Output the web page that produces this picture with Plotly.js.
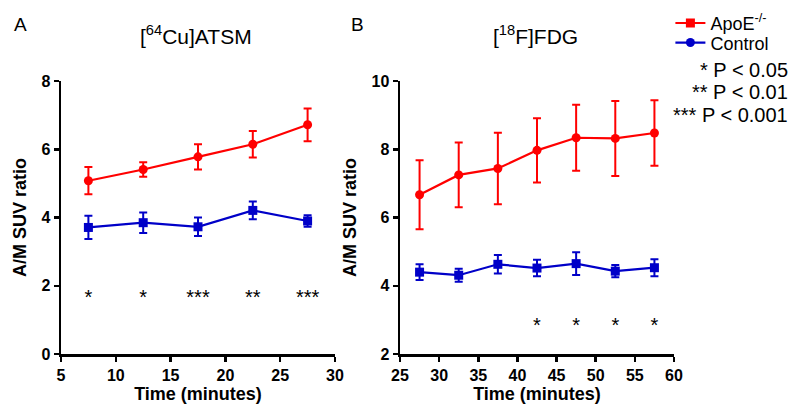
<!DOCTYPE html>
<html><head><meta charset="utf-8">
<script src="https://cdn.plot.ly/plotly-3.0.1.min.js"></script>
<style>html,body{margin:0;padding:0;background:#fff}#plot{width:800px;height:416px}</style>
</head><body><div id="plot"></div>
<script>
// Panel A: [64Cu]ATSM
const timeA = [7.5, 12.5, 17.5, 22.5, 27.5];
const apoeA = [5.08, 5.41, 5.78, 6.15, 6.72];
const apoeAErr = [0.40, 0.21, 0.37, 0.39, 0.48];
const ctrlA = [3.71, 3.85, 3.73, 4.21, 3.90];
const ctrlAErr = [0.34, 0.30, 0.27, 0.26, 0.17];
const starsA = ['*', '*', '***', '**', '***'];
const starYA = 1.6;

// Panel B: [18F]FDG
const timeB = [27.5, 32.5, 37.5, 42.5, 47.5, 52.5, 57.5];
const apoeB = [6.67, 7.25, 7.44, 7.97, 8.34, 8.32, 8.48];
const apoeBErr = [1.01, 0.95, 1.05, 0.94, 0.97, 1.10, 0.96];
const ctrlB = [4.40, 4.31, 4.63, 4.52, 4.65, 4.43, 4.53];
const ctrlBErr = [0.23, 0.19, 0.27, 0.24, 0.33, 0.18, 0.25];
const starTimesB = [42.5, 47.5, 52.5, 57.5];
const starsB = ['*', '*', '*', '*'];
const starYB = 2.79;

// Tick labels
const xTicksA = [5, 10, 15, 20, 25, 30];
const yTicksA = [0, 2, 4, 6, 8];
const xTicksB = [25, 30, 35, 40, 45, 50, 55, 60];
const yTicksB = [2, 4, 6, 8, 10];

const legendNames = ['ApoE<sup>-/-</sup>', 'Control'];
const pLegend = ['* P < 0.05', '** P < 0.01', '*** P < 0.001'];

const RED = '#ff0000', BLUE = '#0000c8';
const F = 'Liberation Sans, Arial, sans-serif';

function series(x, y, e, color, symbol, xa, ya) {
  return {x, y, xaxis: xa, yaxis: ya, type: 'scatter', mode: 'lines+markers', showlegend: false,
    line: {color, width: 2.2}, marker: {color, symbol, size: 9},
    error_y: {type: 'data', array: e, visible: true, color, thickness: 2, width: 4}};
}
function stars(x, y, t, xa, ya) {
  return {x, y: x.map(() => y), text: t, xaxis: xa, yaxis: ya, type: 'scatter', mode: 'text',
    showlegend: false, textfont: {family: F, size: 20, color: '#000'}, hoverinfo: 'skip'};
}
const bold = a => a.map(v => '<b>' + v + '</b>');

const traces = [
  series(timeA, apoeA, apoeAErr, RED, 'circle', 'x', 'y'),
  series(timeA, ctrlA, ctrlAErr, BLUE, 'square', 'x', 'y'),
  series(timeB, apoeB, apoeBErr, RED, 'circle', 'x2', 'y2'),
  series(timeB, ctrlB, ctrlBErr, BLUE, 'square', 'x2', 'y2'),
  stars(timeA, starYA, starsA, 'x', 'y'),
  stars(starTimesB, starYB, starsB, 'x2', 'y2'),
  {x: [null], y: [null], type: 'scatter', mode: 'lines+markers', name: legendNames[0], legend: 'legend',
   line: {color: RED, width: 2.2}, marker: {color: RED, symbol: 'square', size: 9}},
  {x: [null], y: [null], type: 'scatter', mode: 'lines+markers', name: legendNames[1], legend: 'legend2',
   line: {color: BLUE, width: 2.2}, marker: {color: BLUE, symbol: 'circle', size: 9}}
];

const axBase = {showgrid: false, zeroline: false, showline: true, linecolor: '#000', linewidth: 2.5,
  ticks: 'outside', ticklen: 5, tickwidth: 2.5, tickcolor: '#000', tickmode: 'array',
  tickfont: {family: F, size: 16, color: '#000', weight: 700}};
const titleFont = {family: F, size: 18, color: '#000'};
const legBase = {x: 0.838, xanchor: 'left', yanchor: 'middle', font: {family: F, size: 18, color: '#000'},
  bgcolor: 'rgba(0,0,0,0)', itemwidth: 30, borderwidth: 0};

const layout = {
  width: 800, height: 416, margin: {l: 0, r: 0, t: 0, b: 0},
  paper_bgcolor: '#fff', plot_bgcolor: '#fff',
  showlegend: true,
  legend: Object.assign({}, legBase, {y: 0.944}),
  legend2: Object.assign({}, legBase, {y: 0.897}),
  xaxis: Object.assign({}, axBase, {domain: [0.07625, 0.41875], range: [5, 30], anchor: 'y',
    tickvals: xTicksA, ticktext: bold(xTicksA),
    title: {text: '<b>Time (minutes)</b>', font: titleFont, standoff: 4}}),
  yaxis: Object.assign({}, axBase, {domain: [0.149, 0.805], range: [0, 8], anchor: 'x',
    tickvals: yTicksA, ticktext: bold(yTicksA),
    title: {text: '<b>A/M SUV ratio</b>', font: titleFont, standoff: 10}}),
  xaxis2: Object.assign({}, axBase, {domain: [0.5, 0.8425], range: [25, 60], anchor: 'y2',
    tickvals: xTicksB, ticktext: bold(xTicksB),
    title: {text: '<b>Time (minutes)</b>', font: titleFont, standoff: 4}}),
  yaxis2: Object.assign({}, axBase, {domain: [0.149, 0.805], range: [2, 10], anchor: 'x2',
    tickvals: yTicksB, ticktext: bold(yTicksB),
    title: {text: '<b>A/M SUV ratio</b>', font: titleFont, standoff: 10}}),
  annotations: [
    {text: '[<sup>64</sup>Cu]ATSM', x: 0.245, y: 0.916, xanchor: 'center', yanchor: 'middle',
     xref: 'paper', yref: 'paper', showarrow: false, font: {family: F, size: 21, color: '#000'}},
    {text: '[<sup>18</sup>F]FDG', x: 0.669, y: 0.916, xanchor: 'center', yanchor: 'middle',
     xref: 'paper', yref: 'paper', showarrow: false, font: {family: F, size: 21, color: '#000'}},
    {text: 'A', x: 0.026, y: 0.94, xanchor: 'center', yanchor: 'middle',
     xref: 'paper', yref: 'paper', showarrow: false, font: {family: F, size: 19, color: '#000'}},
    {text: 'B', x: 0.447, y: 0.94, xanchor: 'center', yanchor: 'middle',
     xref: 'paper', yref: 'paper', showarrow: false, font: {family: F, size: 19, color: '#000'}}
  ].concat(pLegend.map((t, i) => ({text: t, x: 0.987, y: 0.832 - i * 0.054, xref: 'paper', yref: 'paper',
     xanchor: 'right', yanchor: 'middle', showarrow: false, font: {family: F, size: 20, color: '#000'}})))
};

Plotly.newPlot('plot', traces, layout, {displayModeBar: false, staticPlot: true});
</script></body></html>
